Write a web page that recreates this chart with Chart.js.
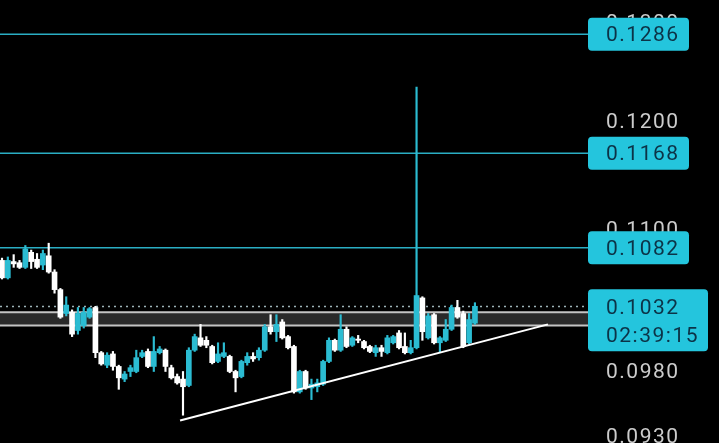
<!DOCTYPE html>
<html>
<head>
<meta charset="utf-8">
<title>Candles</title>
<script src="https://cdn.jsdelivr.net/npm/chart.js@4"></script>
<style>
  body { margin: 0; background: #000; }
  #wrap { width: 719px; height: 443px; position: relative; }
</style>
</head>
<body>
<div id="wrap"><canvas id="myChart"></canvas></div>
<script>
// candle values, oldest first
const opens = [
  0.1071, 0.1056, 0.1070, 0.1069, 0.1065, 0.1078, 0.1072, 0.1067, 0.1075, 0.1061,
  0.1046, 0.1026, 0.1027, 0.1012, 0.1016, 0.1023, 0.1031, 0.0994, 0.0984, 0.0993,
  0.0983, 0.0973, 0.0979, 0.0979, 0.0991, 0.0995, 0.0983, 0.0994, 0.0996, 0.0982,
  0.0975, 0.0973, 0.0968, 0.0996, 0.1006, 0.1004, 0.0999, 0.0987, 0.0991, 0.0991,
  0.0979, 0.0975, 0.0986, 0.0991, 0.0990, 0.0996, 0.1015, 0.1011, 0.1019, 0.1007,
  0.0999, 0.0963, 0.0979, 0.0966, 0.0967, 0.0969, 0.0987, 0.1004, 0.0996, 0.1013,
  0.1000, 0.1005, 0.1003, 0.0999, 0.0994, 0.0998, 0.0994, 0.1002, 0.1010, 0.0999,
  0.0994, 0.0998, 0.1039, 0.1006, 0.1025, 0.1002, 0.1004, 0.1013, 0.1031, 0.1026,
  0.1002, 0.1018
];
const highs = [
  0.1073, 0.1074, 0.1076, 0.1071, 0.1084, 0.1080, 0.1077, 0.1080, 0.1086, 0.1063,
  0.1047, 0.1040, 0.1029, 0.1031, 0.1031, 0.1031, 0.1032, 0.0995, 0.0994, 0.0995,
  0.0984, 0.0979, 0.0984, 0.0996, 0.0996, 0.0997, 0.1007, 0.0999, 0.0997, 0.0984,
  0.0977, 0.0979, 0.0998, 0.1009, 0.1017, 0.1007, 0.1000, 0.1002, 0.1002, 0.0992,
  0.0980, 0.0988, 0.0994, 0.0994, 0.0998, 0.1017, 0.1025, 0.1025, 0.1021, 0.1008,
  0.1000, 0.0980, 0.0980, 0.0973, 0.0973, 0.0988, 0.1006, 0.1005, 0.1025, 0.1015,
  0.1007, 0.1008, 0.1004, 0.1000, 0.1000, 0.1000, 0.1008, 0.1008, 0.1012, 0.1010,
  0.1004, 0.1232, 0.1040, 0.1026, 0.1026, 0.1007, 0.1021, 0.1033, 0.1037, 0.1028,
  0.1026, 0.1035
];
const lows = [
  0.1055, 0.1055, 0.1065, 0.1064, 0.1064, 0.1064, 0.1064, 0.1063, 0.1060, 0.1043,
  0.1022, 0.1024, 0.1007, 0.1009, 0.1014, 0.1022, 0.0990, 0.0984, 0.0982, 0.0980,
  0.0965, 0.0971, 0.0975, 0.0978, 0.0990, 0.0982, 0.0979, 0.0993, 0.0979, 0.0973,
  0.0969, 0.0945, 0.0967, 0.0995, 0.0999, 0.0998, 0.0985, 0.0986, 0.0990, 0.0978,
  0.0963, 0.0974, 0.0984, 0.0987, 0.0988, 0.0995, 0.1009, 0.1003, 0.1005, 0.0997,
  0.0962, 0.0962, 0.0965, 0.0957, 0.0963, 0.0968, 0.0986, 0.0995, 0.0995, 0.0998,
  0.0999, 0.1002, 0.0997, 0.0994, 0.0991, 0.0991, 0.0993, 0.1001, 0.0997, 0.0993,
  0.0993, 0.0997, 0.1004, 0.1005, 0.1001, 0.0994, 0.1003, 0.1012, 0.1022, 0.0998,
  0.1001, 0.1017
];
const closes = [
  0.1056, 0.1071, 0.1068, 0.1065, 0.1081, 0.1070, 0.1065, 0.1077, 0.1061, 0.1046,
  0.1023, 0.1033, 0.1009, 0.1026, 0.1027, 0.1030, 0.0994, 0.0985, 0.0992, 0.0983,
  0.0974, 0.0977, 0.0982, 0.0990, 0.0994, 0.0983, 0.0995, 0.0997, 0.0983, 0.0974,
  0.0970, 0.0967, 0.0996, 0.1007, 0.1000, 0.1000, 0.0986, 0.0993, 0.0994, 0.0979,
  0.0974, 0.0987, 0.0991, 0.0989, 0.0996, 0.1015, 0.1011, 0.1017, 0.1006, 0.0998,
  0.0963, 0.0979, 0.0966, 0.0969, 0.0970, 0.0987, 0.1004, 0.0996, 0.1013, 0.0999,
  0.1006, 0.1004, 0.0998, 0.0995, 0.0998, 0.0995, 0.1006, 0.1007, 0.0998, 0.0994,
  0.0998, 0.1041, 0.1011, 0.1024, 0.1002, 0.1006, 0.1013, 0.1031, 0.1023, 0.0999,
  0.1021, 0.1032
];

// price axis labels and drawn levels
const tickLabels = ["0.1300", "0.1200", "0.1100", "0.1040", "0.0980", "0.0930"];
const levels = [0.1286, 0.1168, 0.1082];
const bandLevels = [0.1027, 0.1016];
const lastPrice = 0.1032;
const countdown = "02:39:15";
// trend line: [candle index, price] at each end
const trendX = [30.5, 93.5];
const trendY = [0.0941, 0.1017];

const TEAL = "#2bbcd2";
const WHITE = "#ffffff";
const BADGE = "#24c5dd";
const BADGE_TEXT = "#0c3347";
const LINE = "#2aaec4";
const FONT = "21px Roboto";

let colors = [];
for (let i = 0; i < opens.length; i++) {
  colors.push(closes[i] >= opens[i] ? TEAL : WHITE);
}

const bodies = opens.map((o, i) => ({ x: i, y: [o, closes[i]] }));
const wicks = lows.map((l, i) => ({ x: i, y: [l, highs[i]] }));
const trend = trendX.map((x, i) => ({ x: x, y: trendY[i] }));

// rounded box for the price badges
function badge(ctx, x, y, w, h) {
  ctx.beginPath();
  ctx.roundRect(x, y, w, h, 4);
  ctx.fillStyle = BADGE;
  ctx.fill();
}

const overlay = {
  id: "overlay",
  beforeDatasetsDraw(chart) {
    const ctx = chart.ctx;
    const y = chart.scales.y;
    const right = 588;
    ctx.save();
    // grey zone
    const bt = y.getPixelForValue(bandLevels[0]);
    const bb = y.getPixelForValue(bandLevels[1]);
    ctx.fillStyle = "#2a2a2a";
    ctx.fillRect(0, bt, right, bb - bt);
    ctx.strokeStyle = "#c4c4c4";
    ctx.lineWidth = 2;
    ctx.beginPath();
    ctx.moveTo(0, bt); ctx.lineTo(right, bt);
    ctx.moveTo(0, bb); ctx.lineTo(right, bb);
    ctx.stroke();
    // dotted last price line
    const py = Math.round(y.getPixelForValue(lastPrice)) + 0.5;
    ctx.strokeStyle = "#9db3b8";
    ctx.lineWidth = 1.5;
    ctx.setLineDash([2, 4]);
    ctx.beginPath();
    ctx.moveTo(0, py); ctx.lineTo(right, py);
    ctx.stroke();
    ctx.setLineDash([]);
    // horizontal levels
    ctx.strokeStyle = LINE;
    ctx.lineWidth = 1.5;
    levels.forEach(function (v) {
      const ly = y.getPixelForValue(v);
      ctx.beginPath();
      ctx.moveTo(0, ly); ctx.lineTo(right, ly);
      ctx.stroke();
    });
    ctx.restore();
  },
  afterDatasetsDraw(chart) {
    const ctx = chart.ctx;
    const y = chart.scales.y;
    const tx = 606;
    ctx.save();
    ctx.font = FONT;
    ctx.letterSpacing = "1.5px";
    ctx.textBaseline = "middle";
    ctx.textAlign = "left";
    // axis labels
    ctx.fillStyle = "#cccccc";
    tickLabels.forEach(function (t) {
      ctx.fillText(t, tx, y.getPixelForValue(parseFloat(t)) + 3);
    });
    // level badges
    levels.forEach(function (v) {
      const ly = y.getPixelForValue(v);
      badge(ctx, 588, ly - 16.5, 101, 33);
      ctx.fillStyle = BADGE_TEXT;
      ctx.fillText(v.toFixed(4), tx, ly + 2);
    });
    // last price badge with countdown
    const py = y.getPixelForValue(lastPrice);
    badge(ctx, 588, py - 17, 120, 62);
    ctx.fillStyle = BADGE_TEXT;
    ctx.fillText(lastPrice.toFixed(4), tx, py + 2);
    ctx.fillText(countdown, tx, py + 30);
    ctx.restore();
  }
};

const ctx = document.getElementById("myChart");
const myChart = new Chart(ctx, {
  type: "bar",
  data: {
    datasets: [
      {
        type: "line",
        data: trend,
        borderColor: WHITE,
        borderWidth: 2,
        pointRadius: 0,
        order: 0
      },
      {
        data: bodies,
        backgroundColor: colors,
        barThickness: 5,
        minBarLength: 1,
        grouped: false,
        order: 1
      },
      {
        data: wicks,
        backgroundColor: colors,
        barThickness: 1.5,
        grouped: false,
        order: 2
      }
    ]
  },
  options: {
    responsive: true,
    maintainAspectRatio: false,
    animation: false,
    layout: { padding: 0 },
    plugins: { legend: { display: false }, tooltip: { enabled: false } },
    scales: {
      x: { type: "linear", min: -0.342, max: 122.8, offset: false, display: false },
      y: { type: "logarithmic", min: 0.0924, max: 0.1322, bounds: "data", display: false }
    }
  },
  plugins: [overlay]
});
</script>
</body>
</html>
